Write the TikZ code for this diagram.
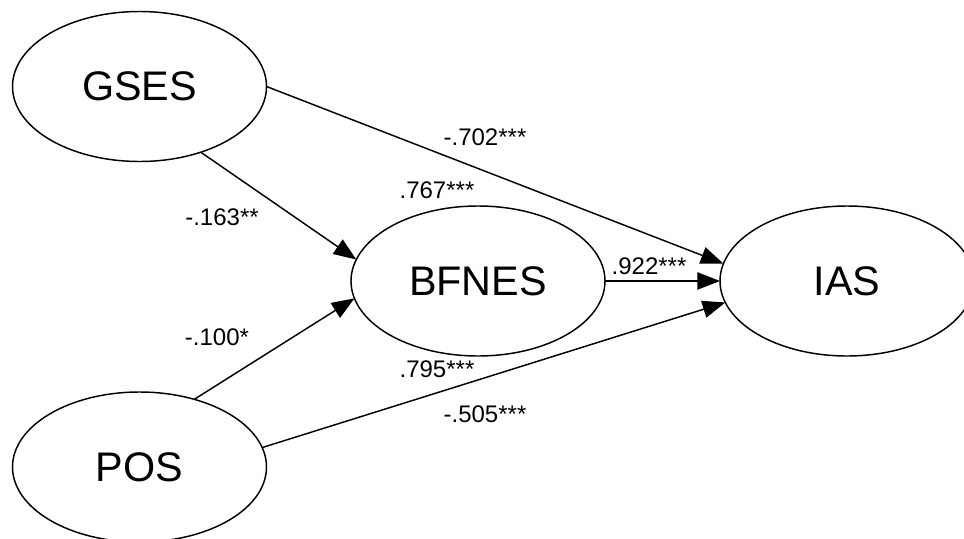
\documentclass[tikz,border=0pt]{standalone}
\usepackage{fontspec}
\setmainfont{Liberation Sans}
\usetikzlibrary{arrows.meta,shapes.geometric}
\begin{document}
\begin{tikzpicture}[x=0.75pt,y=-0.75pt,
  latent/.style={ellipse,draw=black,line width=1.1pt,inner sep=0pt,outer sep=0pt,
    minimum width=190.5pt,minimum height=112.5pt,font=\fontsize{31}{35}\selectfont},
  path/.style={line width=1.1pt,-{Triangle[length=17pt,width=13pt]}},
  coef/.style={inner sep=0pt,font=\fontsize{18}{20}\selectfont}]
\useasboundingbox (0,0) rectangle (964,539);

% latent variables
\node[latent] (gses)  at (139.5,86.5) {GSES};
\node[latent] (pos)   at (139.5,467)  {POS};
\node[latent] (bfnes) at (478,281)    {BFNES};
\node[latent] (ias)   at (847,281)    {IAS};

% structural paths
\draw[path] (gses.313)  -- (bfnes.170);
\draw[path] (pos.51)    -- (bfnes.188);
\draw[path] (gses.0)    -- (ias.172.7);
\draw[path] (bfnes.0)   -- (ias.180);
\draw[path] (pos.9)     -- (ias.190);

% path coefficients
\node[coef] (c1) at (485,137) {-.702***};
\node[coef] (c2) at (437,190) {.767***};
\node[coef] (c3) at (222,217) {-.163**};
\node[coef] (c4) at (217,337) {-.100*};
\node[coef] (c5) at (437,369) {.795***};
\node[coef] (c6) at (485,414) {-.505***};
\node[coef] (c7) at (649,266) {.922***};
\end{tikzpicture}
\end{document}
